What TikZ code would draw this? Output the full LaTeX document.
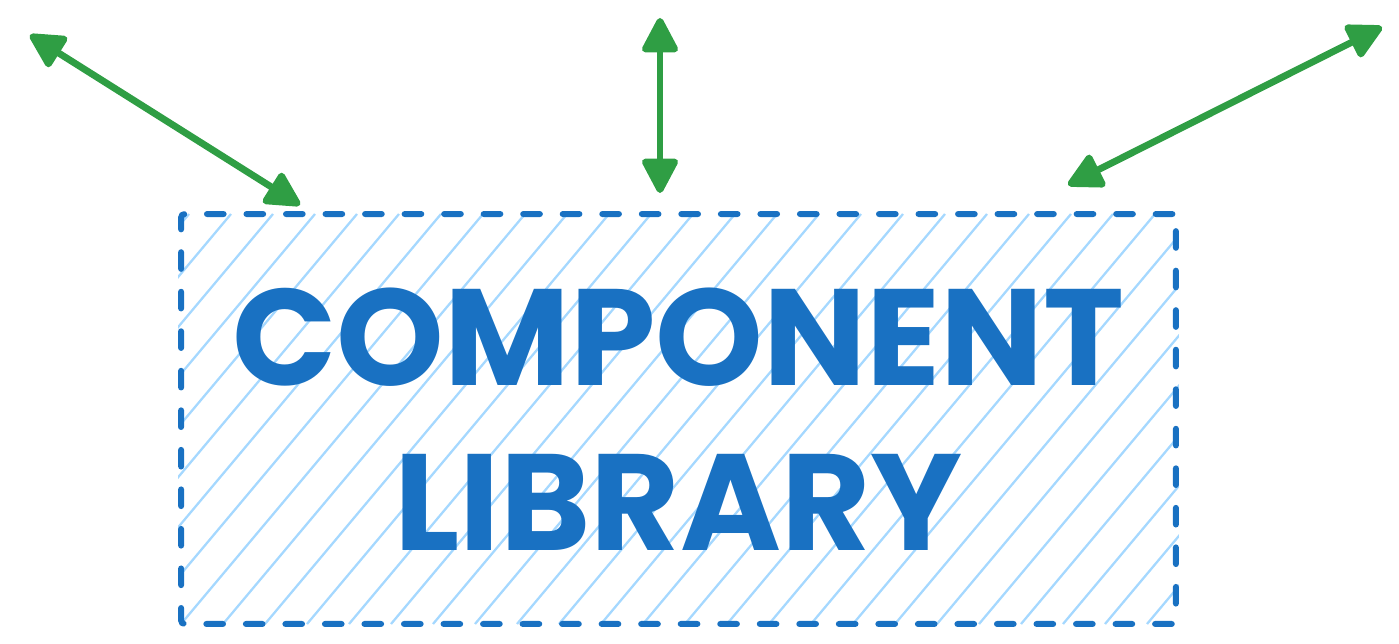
\documentclass[tikz,border=0pt]{standalone}
\usepackage{fontspec}
\setmainfont{Poppins}
\usetikzlibrary{arrows.meta,positioning}
\definecolor{libblue}{HTML}{1971C2}
\definecolor{hatchblue}{HTML}{A5D8FF}
\definecolor{linkgreen}{HTML}{2F9E44}
\pgfdeclarelayer{bg}
\pgfsetlayers{bg,main}

\begin{document}
\begin{tikzpicture}[x=0.02cm,y=-0.02cm,
  libbox/.style={draw=libblue,line width=3.4pt,line cap=round,rounded corners=2pt,
    dash pattern=on 9.5pt off 13pt,minimum width=19.9cm,minimum height=8.2cm,
    inner sep=0pt,align=center,text=libblue,
    font=\fontsize{78}{100}\selectfont\bfseries},
  hatch/.style={draw=hatchblue,line width=1.3pt},
  link/.style={draw=linkgreen,line width=3.9pt,
    {Triangle[length=22pt,width=22pt,round]}-{Triangle[length=22pt,width=22pt,round]}}]
\useasboundingbox (0,0) rectangle (1399,644);
% --- the library box ---
\node[libbox] (lib) at (678.5,419) {COMPONENT\\[-6pt]LIBRARY};
\begin{pgfonlayer}{bg}
  \clip (lib.south west) rectangle (lib.north east);
  \foreach \i in {-9,...,24}
    \draw[hatch] (181+\i*42,624) -- ++(344,-410);
\end{pgfonlayer}
% --- free ends of the links ---
\coordinate (leftfar)   at (30,35);
\coordinate (leftnear)  at (300,205);
\coordinate (midfar)    at (660,18);
\coordinate (midnear)   at (660,193);
\coordinate (rightfar)  at (1382,27);
\coordinate (rightnear) at (1068,185);
\draw[link] (leftfar) -- (leftnear);
\draw[link] (midfar) -- (midnear);
\draw[link] (rightfar) -- (rightnear);
\end{tikzpicture}
\end{document}
